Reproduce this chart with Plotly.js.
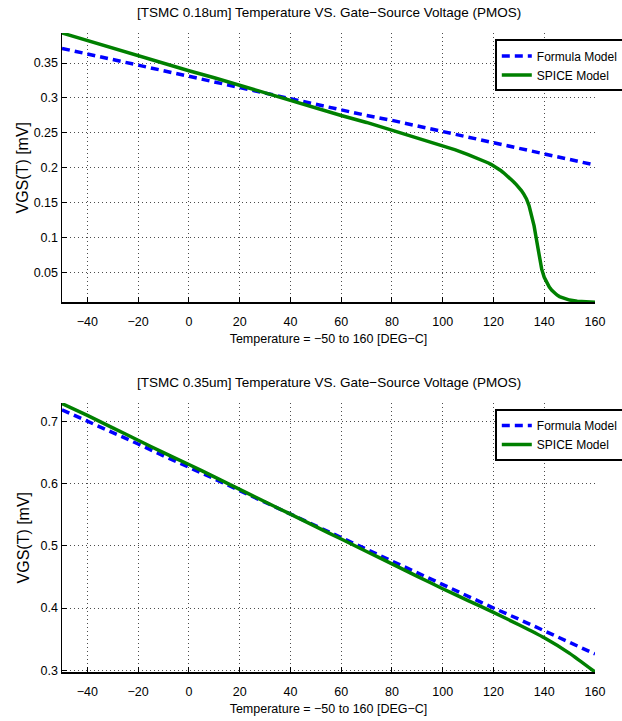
<!DOCTYPE html>
<html>
<head>
<meta charset="utf-8">
<script src="https://cdn.plot.ly/plotly-3.0.1.min.js"></script>
<style>html,body{margin:0;padding:0;background:#fff;}#chart{width:622px;height:721px;}</style>
</head>
<body>
<div id="chart"></div>
<script>
// ---- Top panel: TSMC 0.18um ----
const topFormulaT = [-50,-40,-30,-20,-10,0,10,20,30,40,50,60,70,80,90,100,110,120,130,140,150,160];
const topFormulaV = [0.371,0.363,0.355,0.347,0.339,0.331,0.323,0.315,0.307,0.299,0.290,0.282,0.275,0.268,0.260,0.252,0.244,0.236,0.228,0.220,0.212,0.204];
const topSpiceT = [-50,-40,-30,-20,-10,0,10,20,30,40,50,60,70,80,90,100,105,110,115,116,117,118,119,120,121,122,123,124,125,126,127,128,129,130,131,132,133,134,135,136,137,138,139,140,141,142,143,144,145,146,148,150,153,156,160];
const topSpiceV = [0.393,0.382,0.372,0.361,0.350,0.339,0.329,0.318,0.307,0.297,0.286,0.275,0.265,0.254,0.243,0.232,0.2258,0.219,0.212,0.2105,0.2088,0.207,0.205,0.203,0.2007,0.1983,0.1958,0.1930,0.1900,0.1868,0.1834,0.1798,0.1760,0.1720,0.1675,0.1620,0.1555,0.1460,0.1335,0.1170,0.0960,0.0730,0.0550,0.0435,0.0355,0.0295,0.0248,0.0210,0.0181,0.0158,0.0128,0.0108,0.0092,0.0082,0.0075];

// ---- Bottom panel: TSMC 0.35um ----
const botT = [-50,-40,-30,-20,-10,0,10,20,30,40,50,60,70,80,90,100,110,120,130,140,150,160];
const botFormulaV = [0.719,0.701,0.683,0.664,0.645,0.627,0.608,0.589,0.570,0.551,0.532,0.513,0.494,0.476,0.457,0.438,0.419,0.400,0.382,0.363,0.344,0.326];
const botSpiceV = [0.729,0.710,0.690,0.670,0.650,0.631,0.611,0.591,0.571,0.551,0.531,0.511,0.491,0.471,0.451,0.431,0.412,0.393,0.373,0.352,0.327,0.297];

const xTicks = [-40,-20,0,20,40,60,80,100,120,140,160];
const titleTop = "[TSMC 0.18um] Temperature VS. Gate\u2212Source Voltage (PMOS)";
const titleBot = "[TSMC 0.35um] Temperature VS. Gate\u2212Source Voltage (PMOS)";
const xTitle = "Temperature = \u221250 to 160 [DEG\u2212C]";
const yTitle = "VGS(T) [mV]";
const seriesNames = ["Formula Model", "SPICE Model"];

const SANS = "Liberation Sans, Arial, Helvetica, sans-serif";
const blue = "#0000ff", green = "#008000";

const traces = [
  {x: topFormulaT, y: topFormulaV, name: seriesNames[0], mode: "lines", line: {color: blue, width: 3.5, dash: "8px,5px"}, xaxis: "x", yaxis: "y", legend: "legend"},
  {x: topSpiceT, y: topSpiceV, name: seriesNames[1], mode: "lines", line: {color: green, width: 3.5, shape: "linear"}, xaxis: "x", yaxis: "y", legend: "legend"},
  {x: botT, y: botFormulaV, name: seriesNames[0], mode: "lines", line: {color: blue, width: 3.5, dash: "8px,5px"}, xaxis: "x2", yaxis: "y2", legend: "legend2"},
  {x: botT, y: botSpiceV, name: seriesNames[1], mode: "lines", line: {color: green, width: 3.5, shape: "spline", smoothing: 0.5}, xaxis: "x2", yaxis: "y2", legend: "legend2"}
];

const GRID = {showgrid: true, gridcolor: "rgba(0,0,0,0.7)", griddash: "1px,3px", gridwidth: 1};

function xa(anchor) {
  return Object.assign({
    range: [-50, 160], tickvals: xTicks, ticks: "inside", ticklen: 5, tickwidth: 1, tickcolor: "#000",
    showline: true, linecolor: "#000", linewidth: 1.5, mirror: false, zeroline: false,
    tickfont: {family: SANS, size: 12.5, color: "#000"}, ticklabelstandoff: 7,
    title: {text: xTitle, font: {family: SANS, size: 12.5, color: "#000"}, standoff: 6},
    anchor: anchor
  }, GRID);
}
function ya(range, dtick, tick0, domain, anchor) {
  return Object.assign({
    range: range, dtick: dtick, tick0: tick0, domain: domain, anchor: anchor,
    ticks: "inside", ticklen: 5, tickwidth: 1, tickcolor: "#000",
    showline: true, linecolor: "#000", linewidth: 1.5, mirror: false, zeroline: false,
    tickfont: {family: SANS, size: 12.5, color: "#000"}
  }, GRID);
}

const layout = {
  width: 622, height: 721,
  margin: {l: 62, r: 27, t: 33, b: 49, autoexpand: false},
  paper_bgcolor: "#fff", plot_bgcolor: "#fff",
  showlegend: true,
  xaxis: xa("y"),
  yaxis: ya([0.008, 0.393], 0.05, 0.05, [0.579, 1], "x"),
  xaxis2: xa("y2"),
  yaxis2: ya([0.297, 0.730], 0.1, 0.3, [0, 0.421], "x2"),
  legend: {x: 0.812, y: 0.99, xanchor: "left", yanchor: "top", bgcolor: "#fff", bordercolor: "#000", borderwidth: 2,
           font: {family: SANS, size: 12, color: "#000"}, itemwidth: 30, tracegroupgap: 0},
  legend2: {x: 0.812, y: 0.4116, xanchor: "left", yanchor: "top", bgcolor: "#fff", bordercolor: "#000", borderwidth: 2,
           font: {family: SANS, size: 12, color: "#000"}, itemwidth: 30, tracegroupgap: 0},
  annotations: [
    {text: titleTop, xref: "paper", yref: "paper", x: 0.5, y: 1, yshift: 21, xanchor: "center", yanchor: "middle", showarrow: false,
     font: {family: SANS, size: 13.5, color: "#000"}},
    {text: titleBot, xref: "paper", yref: "paper", x: 0.5, y: 0.421, yshift: 20, xanchor: "center", yanchor: "middle", showarrow: false,
     font: {family: SANS, size: 13.5, color: "#000"}},
    {text: yTitle, xref: "paper", yref: "paper", x: 0, xshift: -39, y: 0.7895, textangle: -90, xanchor: "center", yanchor: "middle", showarrow: false,
     font: {family: SANS, size: 16, color: "#000"}},
    {text: yTitle, xref: "paper", yref: "paper", x: 0, xshift: -39, y: 0.2105, textangle: -90, xanchor: "center", yanchor: "middle", showarrow: false,
     font: {family: SANS, size: 16, color: "#000"}}
  ]
};

Plotly.newPlot("chart", traces, layout, {displayModeBar: false, staticPlot: true});
</script>
</body>
</html>
